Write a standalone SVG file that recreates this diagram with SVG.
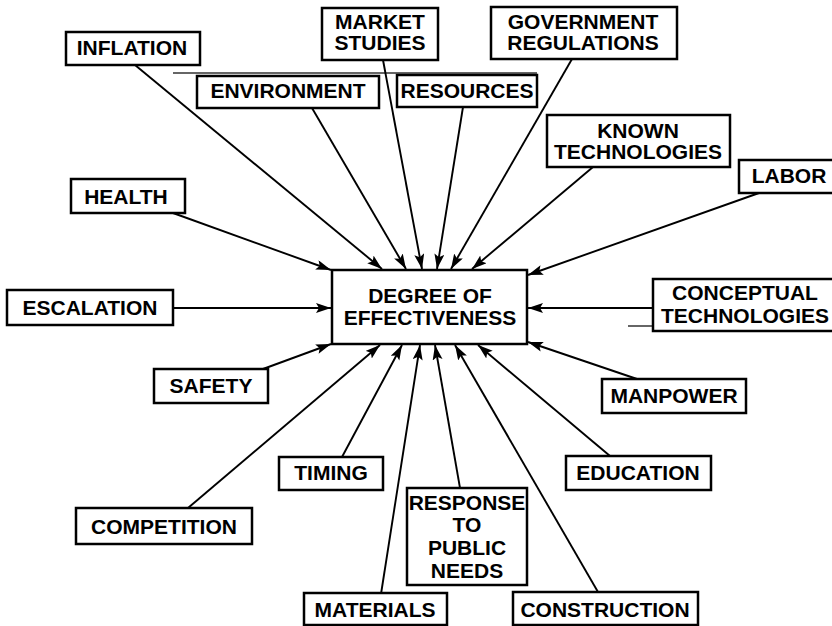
<svg xmlns="http://www.w3.org/2000/svg" width="832" height="626" viewBox="0 0 832 626">
<style>
.box{fill:#fff;stroke:#000;stroke-width:2.5}
.lbl{font-family:"Liberation Sans",Arial,sans-serif;font-weight:bold;font-size:21px;fill:#000;text-anchor:middle}
.con{stroke:#000;stroke-width:1.9;fill:none;marker-end:url(#ah)}
.art{stroke:#333;stroke-width:1.5}
</style>
<defs>
<marker id="ah" markerUnits="userSpaceOnUse" markerWidth="18" markerHeight="12" refX="15" refY="5" orient="auto">
<path d="M0,0 L15,5 L0,10 L3,5 Z" fill="#000"/>
</marker>
</defs>
<rect width="832" height="626" fill="#fff"/>
<line class="art" x1="173" y1="73" x2="537" y2="73"/>
<line class="art" x1="628" y1="326" x2="832" y2="326"/>
<g id="connectors">
<line class="con" x1="135" y1="65" x2="382" y2="269"/>
<line class="con" x1="312" y1="108" x2="406" y2="269"/>
<line class="con" x1="383" y1="60" x2="422" y2="269"/>
<line class="con" x1="463" y1="107" x2="437" y2="269"/>
<line class="con" x1="572" y1="59" x2="451" y2="269"/>
<line class="con" x1="593" y1="167" x2="472" y2="269"/>
<line class="con" x1="759" y1="193" x2="528" y2="275"/>
<line class="con" x1="173" y1="213" x2="331" y2="270"/>
<line class="con" x1="173" y1="308" x2="331" y2="308"/>
<line class="con" x1="263" y1="369" x2="331" y2="344"/>
<line class="con" x1="653" y1="308" x2="528" y2="308"/>
<line class="con" x1="637" y1="379" x2="528" y2="342"/>
<line class="con" x1="188" y1="508" x2="380" y2="345"/>
<line class="con" x1="342" y1="457" x2="402" y2="345"/>
<line class="con" x1="381" y1="594" x2="420" y2="345"/>
<line class="con" x1="460" y1="488" x2="435" y2="345"/>
<line class="con" x1="598" y1="592" x2="455" y2="345"/>
<line class="con" x1="610" y1="456" x2="478" y2="345"/>
</g>
<g id="center">
<rect class="box" x="332" y="270" width="195" height="74"/>
<text class="lbl" x="430" y="303">DEGREE OF</text>
<text class="lbl" x="430" y="325">EFFECTIVENESS</text>
</g>
<g id="inflation">
<rect class="box" x="66" y="32" width="134" height="33"/>
<text class="lbl" x="132" y="55">INFLATION</text>
</g>
<g id="market-studies">
<rect class="box" x="322" y="8" width="116" height="52"/>
<text class="lbl" x="380" y="29">MARKET</text>
<text class="lbl" x="380" y="50">STUDIES</text>
</g>
<g id="government-regulations">
<rect class="box" x="491" y="7" width="186" height="52"/>
<text class="lbl" x="583" y="29">GOVERNMENT</text>
<text class="lbl" x="583" y="50">REGULATIONS</text>
</g>
<g id="environment">
<rect class="box" x="197" y="76" width="182" height="32"/>
<text class="lbl" x="288" y="98">ENVIRONMENT</text>
</g>
<g id="resources">
<rect class="box" x="397" y="75" width="140" height="32"/>
<text class="lbl" x="467" y="98">RESOURCES</text>
</g>
<g id="known-technologies">
<rect class="box" x="547" y="115" width="183" height="52"/>
<text class="lbl" x="638" y="138">KNOWN</text>
<text class="lbl" x="638" y="159">TECHNOLOGIES</text>
</g>
<g id="labor">
<rect class="box" x="739" y="160" width="101" height="33"/>
<text class="lbl" x="789" y="183">LABOR</text>
</g>
<g id="health">
<rect class="box" x="71" y="179" width="114" height="34"/>
<text class="lbl" x="126" y="204">HEALTH</text>
</g>
<g id="escalation">
<rect class="box" x="7" y="290" width="166" height="35"/>
<text class="lbl" x="90" y="315">ESCALATION</text>
</g>
<g id="conceptual-technologies">
<rect class="box" x="653" y="279" width="187" height="52"/>
<text class="lbl" x="745" y="300">CONCEPTUAL</text>
<text class="lbl" x="745" y="323">TECHNOLOGIES</text>
</g>
<g id="safety">
<rect class="box" x="154" y="369" width="114" height="34"/>
<text class="lbl" x="211" y="393">SAFETY</text>
</g>
<g id="manpower">
<rect class="box" x="602" y="379" width="144" height="34"/>
<text class="lbl" x="674" y="403">MANPOWER</text>
</g>
<g id="timing">
<rect class="box" x="279" y="457" width="104" height="33"/>
<text class="lbl" x="331" y="480">TIMING</text>
</g>
<g id="education">
<rect class="box" x="566" y="456" width="145" height="34"/>
<text class="lbl" x="638" y="480">EDUCATION</text>
</g>
<g id="competition">
<rect class="box" x="76" y="508" width="176" height="36"/>
<text class="lbl" x="164" y="534">COMPETITION</text>
</g>
<g id="response-to-public-needs">
<rect class="box" x="407" y="488" width="120" height="97"/>
<text class="lbl" x="467" y="510">RESPONSE</text>
<text class="lbl" x="467" y="532">TO</text>
<text class="lbl" x="467" y="555">PUBLIC</text>
<text class="lbl" x="467" y="578">NEEDS</text>
</g>
<g id="materials">
<rect class="box" x="304" y="593" width="143" height="32"/>
<text class="lbl" x="375" y="617">MATERIALS</text>
</g>
<g id="construction">
<rect class="box" x="513" y="592" width="185" height="33"/>
<text class="lbl" x="605" y="617">CONSTRUCTION</text>
</g>
</svg>
